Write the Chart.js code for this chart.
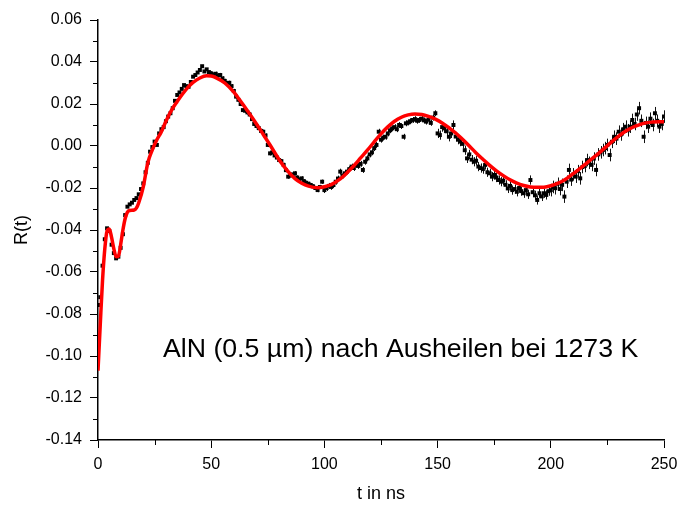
<!DOCTYPE html>
<html>
<head>
<meta charset="utf-8">
<script src="https://cdn.jsdelivr.net/npm/chart.js@4.4.1/dist/chart.umd.min.js"></script>
<style>
  html, body { margin: 0; padding: 0; background: #fff; }
  #wrap { width: 681px; height: 505px; }
</style>
</head>
<body>
<div id="wrap"><canvas id="rChart" width="681" height="505"></canvas></div>
<script>
// measured R(t), one sample per ns starting at t = 0
var dt = 1;
var measR = [
  -0.0757, -0.0720, -0.0570, -0.0444, -0.0392, -0.0405, -0.0470, -0.0510, -0.0535, -0.0527,
  -0.0485, -0.0420, -0.0329, -0.0289, -0.0278, -0.0270, -0.0257, -0.0248, -0.0230, -0.0205,
  -0.0178, -0.0125, -0.0080, -0.0027, -0.0005, 0.0021, 0.0005, 0.0060, 0.0080, 0.0090,
  0.0118, 0.0140, 0.0156, 0.0180, 0.0215, 0.0243, 0.0255, 0.0272, 0.0290, 0.0285,
  0.0282, 0.0305, 0.0330, 0.0338, 0.0350, 0.0362, 0.0380, 0.0355, 0.0365, 0.0352,
  0.0346, 0.0340, 0.0344, 0.0336, 0.0338, 0.0322, 0.0310, 0.0300, 0.0301, 0.0285,
  0.0262, 0.0235, 0.0220, 0.0200, 0.0171, 0.0168, 0.0160, 0.0150, 0.0128, 0.0105,
  0.0095, 0.0085, 0.0072, 0.0068, 0.0050, 0.0005, -0.0035, -0.0030, -0.0045, -0.0055,
  -0.0067, -0.0072, -0.0090, -0.0115, -0.0146, -0.0140, -0.0135, -0.0130, -0.0150, -0.0160,
  -0.0154, -0.0168, -0.0175, -0.0180, -0.0186, -0.0192, -0.0200, -0.0210, -0.0195, -0.0170,
  -0.0210, -0.0200, -0.0190, -0.0195, -0.0186, -0.0170, -0.0155, -0.0122, -0.0140, -0.0130,
  -0.0122, -0.0110, -0.0098, -0.0105, -0.0090, -0.0095, -0.0085, -0.0114, -0.0075, -0.0059,
  -0.0040, -0.0030, -0.0010, 0.0005, 0.0068, 0.0030, 0.0040, 0.0044, 0.0060, 0.0075,
  0.0084, 0.0090, 0.0080, 0.0100, 0.0095, 0.0044, 0.0108, 0.0112, 0.0118, 0.0124,
  0.0128, 0.0120, 0.0124, 0.0130, 0.0122, 0.0116, 0.0125, 0.0110, 0.0135, 0.0156,
  0.0060, 0.0052, 0.0090, 0.0084, 0.0070, 0.0044, 0.0060, 0.0100, 0.0045, 0.0030,
  0.0021, 0.0010, -0.0020, -0.0059, -0.0040, -0.0065, -0.0075, -0.0070, -0.0098, -0.0105,
  -0.0110, -0.0090, -0.0125, -0.0130, -0.0146, -0.0138, -0.0150, -0.0162, -0.0170, -0.0165,
  -0.0185, -0.0202, -0.0190, -0.0210, -0.0205, -0.0218, -0.0200, -0.0215, -0.0225, -0.0210,
  -0.0230, -0.0162, -0.0220, -0.0235, -0.0257, -0.0225, -0.0240, -0.0225, -0.0233, -0.0215,
  -0.0210, -0.0195, -0.0201, -0.0180, -0.0205, -0.0185, -0.0241, -0.0170, -0.0114, -0.0160,
  -0.0135, -0.0146, -0.0120, -0.0154, -0.0100, -0.0095, -0.0067, -0.0080, -0.0090, -0.0060,
  -0.0114, -0.0040, -0.0030, -0.0019, -0.0010, 0.0005, -0.0043, 0.0020, 0.0044, 0.0035,
  0.0068, 0.0055, 0.0080, 0.0092, 0.0075, 0.0092, 0.0124, 0.0105, 0.0150, 0.0180,
  0.0120, 0.0044, 0.0110, 0.0092, 0.0130, 0.0100, 0.0156, 0.0120, 0.0092, 0.0105,
  0.0140
];

// error bar half-widths, by time range
var errFrom = [0, 50, 100, 150, 200];
var errSize = [0.0006, 0.0010, 0.0014, 0.0022, 0.0030];

// fit curve
var fitT = [0, 1, 2, 3, 4, 5, 6, 7, 8, 9, 10, 11, 12, 13, 14, 16, 17, 18, 20, 22, 24, 26, 28, 30,
  32.5, 35, 37, 40, 42, 45, 48, 50, 52, 56, 60, 63, 66, 70, 73, 76, 80, 84, 87, 90, 93, 97,
  100, 103, 107, 110, 113, 116, 119, 122, 125, 128, 131, 134, 137, 140, 143, 146, 149, 152,
  155, 158, 161, 164, 167, 170, 173, 176, 179, 182, 185, 188, 191, 194, 197, 200, 203, 206,
  209, 212, 215, 218, 221, 224, 227, 230, 233, 236, 239, 242, 245, 248, 250];
var fitR = [-0.107, -0.085, -0.064, -0.049, -0.0405, -0.0395, -0.0435, -0.049, -0.0527, -0.0525,
  -0.047, -0.040, -0.0345, -0.0315, -0.0307, -0.0305, -0.0295, -0.027, -0.0194, -0.0080,
  -0.0018, 0.0030, 0.0068, 0.0118, 0.0171, 0.0212, 0.0243, 0.0283, 0.0303, 0.0324, 0.0334,
  0.0333, 0.0326, 0.0300, 0.0256, 0.0213, 0.0168, 0.0105, 0.0055, 0.0005, -0.0065, -0.0122,
  -0.0155, -0.0177, -0.0191, -0.0199, -0.0194, -0.0184, -0.0157, -0.0127, -0.0094, -0.0057,
  -0.0020, 0.0020, 0.0058, 0.0091, 0.0118, 0.0137, 0.0148, 0.0152, 0.0150, 0.0141, 0.0128,
  0.0110, 0.0087, 0.0062, 0.0032, 0.0000, -0.0033, -0.0063, -0.0092, -0.0118, -0.0141,
  -0.0161, -0.0177, -0.0188, -0.0195, -0.0197, -0.0196, -0.0189, -0.0178, -0.0162, -0.0139,
  -0.0115, -0.0089, -0.0062, -0.0036, -0.0008, 0.0021, 0.0047, 0.0070, 0.0088, 0.0101,
  0.0110, 0.0114, 0.0116, 0.0116];

var label = 'AlN (0.5 \u00b5m) nach Ausheilen bei 1273 K';

document.addEventListener("DOMContentLoaded", function() {
    var font = "Arial, 'Liberation Sans', sans-serif";
    Chart.defaults.font.family = font;
    Chart.defaults.color = '#000';

    var points = measR.map(function(r, i) { return { x: i * dt, y: r }; });
    var fitPoints = fitT.map(function(t, i) { return { x: t, y: fitR[i] }; });

    function errAt(t) {
        var e = errSize[0];
        for (var k = 0; k < errFrom.length; k++) {
            if (t >= errFrom[k]) e = errSize[k];
        }
        return e;
    }

    // error bars, minor ticks and the text label
    var extras = {
        id: 'extras',
        beforeDatasetsDraw: function(chart) {
            var c = chart.ctx, xs = chart.scales.x, ys = chart.scales.y;
            c.save();
            c.strokeStyle = '#111';
            c.lineWidth = 1;
            points.forEach(function(p) {
                var px = Math.round(xs.getPixelForValue(p.x)) + 0.5;
                var e = errAt(p.x);
                c.beginPath();
                c.moveTo(px, ys.getPixelForValue(p.y - e));
                c.lineTo(px, ys.getPixelForValue(p.y + e));
                c.stroke();
            });
            c.restore();
        },
        afterDraw: function(chart) {
            var c = chart.ctx, xs = chart.scales.x, ys = chart.scales.y;
            var area = chart.chartArea;
            c.save();
            c.strokeStyle = '#000';
            c.lineWidth = 1;
            for (var t = 25; t < 250; t += 50) {
                var px = Math.round(xs.getPixelForValue(t)) + 0.5;
                c.beginPath();
                c.moveTo(px, area.bottom);
                c.lineTo(px, area.bottom + 5);
                c.stroke();
            }
            for (var v = -13; v <= 5; v += 2) {
                var py = Math.round(ys.getPixelForValue(v / 100)) + 0.5;
                c.beginPath();
                c.moveTo(area.left, py);
                c.lineTo(area.left - 5, py);
                c.stroke();
            }
            c.fillStyle = '#000';
            c.font = "26.7px " + font;
            c.textBaseline = 'alphabetic';
            c.fillText(label, xs.getPixelForValue(28.7), ys.getPixelForValue(-0.1006));
            c.restore();
        }
    };

    function isMajorX(v) { return Math.round(v) % 50 === 0; }
    function isMajorY(v) { return Math.round(v * 100) % 2 === 0; }

    var ctx = document.getElementById('rChart').getContext('2d');
    var rChart = new Chart(ctx, {
        type: 'scatter',
        data: {
            datasets: [
                {
                    label: 'Fit',
                    data: fitPoints,
                    showLine: true,
                    borderColor: '#ff0000',
                    borderWidth: 3.5,
                    pointRadius: 0,
                    cubicInterpolationMode: 'monotone',
                    fill: false
                },
                {
                    label: 'R(t)',
                    data: points,
                    showLine: false,
                    pointStyle: 'rect',
                    pointRadius: 2.8,
                    backgroundColor: '#000',
                    borderColor: '#000',
                    borderWidth: 0
                }
            ]
        },
        options: {
            responsive: false,
            animation: false,
            layout: { padding: { top: 20, right: 17, left: 0, bottom: 0 } },
            plugins: { legend: { display: false }, tooltip: { enabled: false } },
            scales: {
                x: {
                    type: 'linear',
                    min: 0,
                    max: 250,
                    border: { display: true, color: '#000', width: 1.5 },
                    grid: {
                        drawOnChartArea: false,
                        drawTicks: true,
                        tickLength: 8,
                        tickColor: function(c) { return c.tick && isMajorX(c.tick.value) ? '#000' : 'rgba(0,0,0,0)'; }
                    },
                    ticks: {
                        stepSize: 25,
                        autoSkip: false,
                        maxRotation: 0,
                        padding: 7,
                        font: { size: 16 },
                        callback: function(v) { return isMajorX(v) ? String(Math.round(v)) : ''; }
                    },
                    title: { display: true, text: 't in ns', font: { size: 18 }, padding: { top: 0, bottom: 0 } },
                    afterFit: function(s) { s.height = 65; s.paddingLeft = 0; s.paddingRight = 0; }
                },
                y: {
                    type: 'linear',
                    min: -0.14,
                    max: 0.06,
                    border: { display: true, color: '#000', width: 1.5 },
                    grid: {
                        drawOnChartArea: false,
                        drawTicks: true,
                        tickLength: 8,
                        tickColor: function(c) { return c.tick && isMajorY(c.tick.value) ? '#000' : 'rgba(0,0,0,0)'; }
                    },
                    ticks: {
                        stepSize: 0.01,
                        autoSkip: false,
                        padding: 8,
                        font: { size: 16 },
                        callback: function(v) { return isMajorY(v) ? v.toFixed(2) : ''; }
                    },
                    title: { display: true, text: 'R(t)', font: { size: 18 }, padding: { top: 11, bottom: 0 } },
                    afterFit: function(s) { s.width = 98; }
                }
            }
        },
        plugins: [extras]
    });
});
</script>
</body>
</html>
